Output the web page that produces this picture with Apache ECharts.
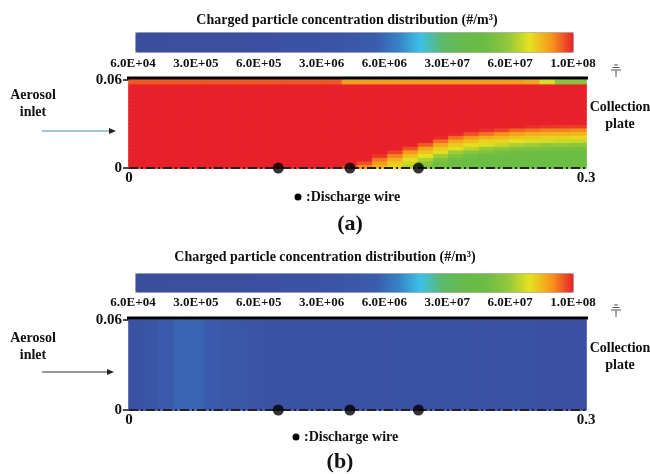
<!DOCTYPE html>
<html>
<head>
<meta charset="utf-8">
<script src="https://cdn.jsdelivr.net/npm/echarts@6/dist/echarts.min.js"></script>
<style>
  html, body { margin: 0; padding: 0; background: #fff; }
  #main { width: 650px; height: 474px; }
</style>
</head>
<body>
<div id="main"></div>
<script>
// colour bar tick labels, #/m3 (evenly spaced on the bar)
var barTicks = ['6.0E+04', '3.0E+05', '6.0E+05', '3.0E+06', '6.0E+06', '3.0E+07', '6.0E+07', '1.0E+08'];
// axis ticks (m)
var lengthTicks = [0, 0.3];
var heightTicks = [0, 0.06];
// discharge wire positions along the axis (m)
var wireX = [0.098, 0.145, 0.19];
// collection plate span (m), drawn just above the top edge
var plateSpan = [-0.003, 0.322];
var plateY = 0.0614;

// (a) field, unit 1E+06 #/m3, 30 cells along x (0..0.3), 24 rows along y (0..0.06), bottom row first
var fieldA = [
  [100,100,100,100,100,100,100,100,100,100,100,100,100,100, 95, 85, 78, 72, 62, 52, 46, 45, 45, 45, 45, 45, 45, 45, 45, 45],
  [100,100,100,100,100,100,100,100,100,100,100,100,100,100,100, 93, 82, 74, 66, 56, 48, 45, 45, 45, 45, 45, 45, 45, 45, 45],
  [100,100,100,100,100,100,100,100,100,100,100,100,100,100,100,100, 88, 79, 71, 62, 52, 46, 45, 45, 45, 45, 45, 45, 45, 45],
  [100,100,100,100,100,100,100,100,100,100,100,100,100,100,100,100, 97, 86, 76, 70, 60, 52, 47, 45, 45, 45, 45, 45, 45, 45],
  [100,100,100,100,100,100,100,100,100,100,100,100,100,100,100,100,100, 95, 83, 75, 69, 60, 55, 51, 48, 46, 45, 45, 45, 45],
  [100,100,100,100,100,100,100,100,100,100,100,100,100,100,100,100,100,100, 93, 81, 74, 69, 64, 59, 56, 53, 51, 50, 49, 49],
  [100,100,100,100,100,100,100,100,100,100,100,100,100,100,100,100,100,100,100, 91, 80, 74, 71, 68, 65, 62, 60, 58, 58, 57],
  [100,100,100,100,100,100,100,100,100,100,100,100,100,100,100,100,100,100,100,100, 89, 80, 76, 73, 72, 70, 68, 67, 66, 65],
  [100,100,100,100,100,100,100,100,100,100,100,100,100,100,100,100,100,100,100,100, 99, 89, 83, 79, 77, 75, 74, 73, 73, 72],
  [100,100,100,100,100,100,100,100,100,100,100,100,100,100,100,100,100,100,100,100,100, 99, 93, 88, 84, 81, 79, 78, 78, 77],
  [100,100,100,100,100,100,100,100,100,100,100,100,100,100,100,100,100,100,100,100,100,100,100, 98, 95, 90, 88, 86, 86, 85],
  [100,100,100,100,100,100,100,100,100,100,100,100,100,100,100,100,100,100,100,100,100,100,100,100,100,100, 98, 97, 96, 96],
  [100,100,100,100,100,100,100,100,100,100,100,100,100,100,100,100,100,100,100,100,100,100,100,100,100,100,100,100,100,100],
  [100,100,100,100,100,100,100,100,100,100,100,100,100,100,100,100,100,100,100,100,100,100,100,100,100,100,100,100,100,100],
  [100,100,100,100,100,100,100,100,100,100,100,100,100,100,100,100,100,100,100,100,100,100,100,100,100,100,100,100,100,100],
  [100,100,100,100,100,100,100,100,100,100,100,100,100,100,100,100,100,100,100,100,100,100,100,100,100,100,100,100,100,100],
  [100,100,100,100,100,100,100,100,100,100,100,100,100,100,100,100,100,100,100,100,100,100,100,100,100,100,100,100,100,100],
  [100,100,100,100,100,100,100,100,100,100,100,100,100,100,100,100,100,100,100,100,100,100,100,100,100,100,100,100,100,100],
  [100,100,100,100,100,100,100,100,100,100,100,100,100,100,100,100,100,100,100,100,100,100,100,100,100,100,100,100,100,100],
  [100,100,100,100,100,100,100,100,100,100,100,100,100,100,100,100,100,100,100,100,100,100,100,100,100,100,100,100,100,100],
  [100,100,100,100,100,100,100,100,100,100,100,100,100,100,100,100,100,100,100,100,100,100,100,100,100,100,100,100,100,100],
  [100,100,100,100,100,100,100,100,100,100,100,100,100,100,100,100,100,100,100,100,100,100,100,100,100,100,100,100,100,100],
  [100,100,100,100,100,100,100,100,100,100,100,100,100,100,100,100,100,100,100,100,100,100,100,100,100,100,100,100,100,100],
  [ 92, 92, 92, 92, 92, 92, 92, 92, 92, 92, 92, 92, 92, 92, 82, 82, 82, 82, 82, 82, 82, 82, 82, 82, 82, 82, 80, 68, 55, 55]
];
// (b) field, unit 1E+06 #/m3, 30 cells along x, whole height
var fieldB = [
  [2.5, 3.8, 5.1, 5.7, 5.7, 5.1, 4.2, 3.6, 3.3, 2.5, 2.2, 1.7, 1.4, 1.2, 1.2, 1.2, 1.2, 1.2, 1.2, 1.2, 1.2, 1.0, 1.0, 1.0, 1.0, 1.0, 1.0, 0.7, 0.7, 0.6]
];
var UNIT = 1e6;

var barColors = ['#3b4d9e','#3b4d9e','#3b4e9f','#3b4e9f','#3b4fa0','#3b4fa1','#3b50a2','#3b51a3','#3b52a4','#3b54a6',
  '#3b57a8','#3a5cac','#3582c5','#3cc0e8','#5cba6c','#68ba48','#6cbd44','#92c73b','#e6e21f','#f6951d','#e8212a'];

var FONT = 'Liberation Serif';

// position on the colour bar (0..1), log-interpolated between the labelled ticks
var tickLogs = barTicks.map(function (t) { return Math.log10(Number(t)); });
function barPos(c) {
  var lc = Math.log10(c);
  var n = tickLogs.length - 1;
  if (lc <= tickLogs[0]) return 0;
  for (var i = 0; i < n; i++) {
    if (lc <= tickLogs[i + 1]) {
      return (i + (lc - tickLogs[i]) / (tickLogs[i + 1] - tickLogs[i])) / n;
    }
  }
  return 1;
}

function cells(field) {
  var out = [];
  field.forEach(function (row, r) {
    row.forEach(function (v, c) {
      var p = barPos(v * UNIT);
      // border in the cell's own colour hides the anti-alias seams
      out.push({
        value: [c, r, p, v * UNIT],
        itemStyle: { borderColor: echarts.color.lerp(p, barColors), borderWidth: 1 }
      });
    });
  });
  return out;
}
function idx(n) {
  var a = [];
  for (var i = 0; i < n; i++) a.push(String(i));
  return a;
}

var myChart = echarts.init(document.getElementById('main'));

var panels = [
  { top: 80, height: 88, barTop: 32, barH: 20, labTop: 51, field: fieldA },
  { top: 320, height: 90, barTop: 273, barH: 19, labTop: 290, field: fieldB }
];

var grids = [], xAxes = [], yAxes = [], series = [], visualMaps = [];
var LEFT = 129, WIDTH = 457;

panels.forEach(function (p, k) {
  // heatmap grid
  grids.push({ left: LEFT, top: p.top, width: WIDTH, height: p.height, outerBoundsMode: 'none' });
  xAxes.push({ type: 'category', gridIndex: k, data: idx(p.field[0].length), show: false });
  yAxes.push({ type: 'category', gridIndex: k, data: idx(p.field.length), show: false });
});
panels.forEach(function (p, k) {
  // overlay grid with real coordinates
  grids.push({ left: LEFT, top: p.top, width: WIDTH, height: p.height, outerBoundsMode: 'none' });
  xAxes.push({
    type: 'value', gridIndex: 2 + k,
    min: lengthTicks[0], max: lengthTicks[1], interval: lengthTicks[1] - lengthTicks[0],
    axisLine: { show: false }, axisTick: { show: false }, splitLine: { show: false },
    axisLabel: { margin: 3, color: '#111', fontFamily: FONT, fontWeight: 'bold', fontSize: 15 }
  });
  yAxes.push({
    type: 'value', gridIndex: 2 + k,
    min: heightTicks[0], max: heightTicks[1], interval: heightTicks[1] - heightTicks[0],
    axisLine: { show: false }, splitLine: { show: false },
    axisTick: { show: true, length: 6, lineStyle: { color: '#111', width: 1.5 } },
    axisLabel: { margin: 7, color: '#111', fontFamily: FONT, fontWeight: 'bold', fontSize: 15 }
  });
});
panels.forEach(function (p, k) {
  // colour bar tick labels
  grids.push({ left: 133, top: p.labTop, width: 440, height: 1, outerBoundsMode: 'none' });
  xAxes.push({
    type: 'category', gridIndex: 4 + k, data: barTicks, boundaryGap: false,
    axisLine: { show: false }, axisTick: { show: false },
    axisLabel: { interval: 0, margin: 5, color: '#111', fontFamily: FONT, fontWeight: 'bold', fontSize: 13 }
  });
  yAxes.push({ type: 'value', gridIndex: 4 + k, show: false });
});

panels.forEach(function (p, k) {
  series.push({
    type: 'heatmap', xAxisIndex: k, yAxisIndex: k, data: cells(p.field),
    emphasis: { disabled: true }, progressive: 0
  });
  visualMaps.push({
    type: 'continuous', seriesIndex: k, dimension: 2, min: 0, max: 1,
    orient: 'horizontal', left: 135, top: p.barTop,
    itemWidth: p.barH, itemHeight: 438, calculable: false, hoverLink: false,
    padding: 0, borderColor: '#aaa', borderWidth: 1,
    inRange: { color: barColors }
  });
});
panels.forEach(function (p, k) {
  series.push({
    type: 'line', xAxisIndex: 2 + k, yAxisIndex: 2 + k, clip: false, symbol: 'none', z: 5,
    data: [[plateSpan[0], plateY], [plateSpan[1], plateY]],
    lineStyle: { color: '#000', width: 3 }, silent: true
  });
  series.push({
    type: 'line', xAxisIndex: 2 + k, yAxisIndex: 2 + k, clip: false, symbol: 'none', z: 5,
    data: [[lengthTicks[0], 0], [0.302, 0]],
    lineStyle: { color: '#222', width: 2, type: [9, 3, 2, 3] }, silent: true
  });
  series.push({
    type: 'scatter', xAxisIndex: 2 + k, yAxisIndex: 2 + k, clip: false, z: 6,
    data: wireX.map(function (x) { return [x, 0]; }),
    symbolSize: 11, itemStyle: { color: '#000' }, silent: true
  });
});

function txt(x, y, s, size, align) {
  return {
    type: 'text', x: x, y: y, silent: true,
    style: {
      text: s, fill: '#111', font: 'bold ' + size + 'px "' + FONT + '"',
      textAlign: align || 'center', textVerticalAlign: 'middle', lineHeight: size + 3
    }
  };
}
function ground(x, y) {
  var c = { stroke: '#555', lineWidth: 1 };
  return [
    { type: 'line', shape: { x1: x, y1: y, x2: x, y2: y - 7 }, style: c, silent: true },
    { type: 'line', shape: { x1: x - 5, y1: y - 7, x2: x + 5, y2: y - 7 }, style: c, silent: true },
    { type: 'line', shape: { x1: x - 3.5, y1: y - 9.5, x2: x + 3.5, y2: y - 9.5 }, style: c, silent: true },
    { type: 'line', shape: { x1: x - 2, y1: y - 12, x2: x + 2, y2: y - 12 }, style: c, silent: true }
  ];
}
function arrow(x1, x2, y, color) {
  return [
    { type: 'line', shape: { x1: x1, y1: y, x2: x2 - 4, y2: y }, style: { stroke: color, lineWidth: 1 }, silent: true },
    { type: 'polygon', shape: { points: [[x2 - 7, y - 3], [x2, y], [x2 - 7, y + 3]] }, style: { fill: '#222' }, silent: true }
  ];
}

var graphics = [
  txt(347, 20, 'Charged particle concentration distribution (#/m³)', 14),
  txt(325, 257, 'Charged particle concentration distribution (#/m³)', 14),
  txt(33, 104, 'Aerosol\ninlet', 14),
  txt(33, 347, 'Aerosol\ninlet', 14),
  txt(620, 116, 'Collection\nplate', 14),
  txt(620, 357, 'Collection\nplate', 14),
  { type: 'circle', shape: { cx: 298, cy: 197, r: 3.5 }, style: { fill: '#000' }, silent: true },
  txt(306, 197, ':Discharge wire', 14, 'left'),
  { type: 'circle', shape: { cx: 296, cy: 437, r: 3.5 }, style: { fill: '#000' }, silent: true },
  txt(304, 437, ':Discharge wire', 14, 'left'),
  txt(350, 224, '(a)', 22),
  txt(340, 462, '(b)', 22)
].concat(arrow(42, 116, 131, '#3f8db0'), arrow(42, 114, 372, '#333'), ground(616, 77), ground(616, 317));

myChart.setOption({
  animation: false,
  backgroundColor: '#fff',
  grid: grids,
  xAxis: xAxes,
  yAxis: yAxes,
  visualMap: visualMaps,
  series: series,
  graphic: graphics
});
</script>
</body>
</html>
